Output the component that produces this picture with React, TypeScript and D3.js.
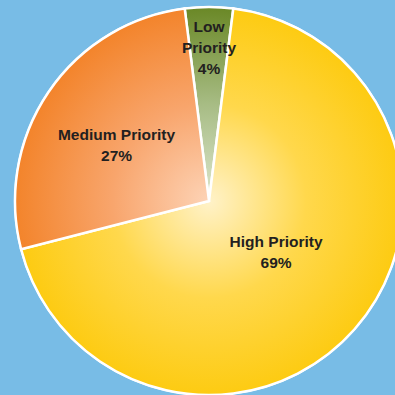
import React from "react";
import * as d3 from "d3";

const categories = ["Low Priority", "High Priority", "Medium Priority"];
const values = [4, 69, 27];
const labelLines = [["Low", "Priority", "4%"], ["High Priority", "69%"], ["Medium Priority", "27%"]];

const W = 395, H = 395;
const cx = 209, cy = 201, R = 194;
const gradients = [
  ["#DDE6CE", "#A7BC84", "#6A8826"],
  ["#FFF2C9", "#FFD84C", "#FDCB12"],
  ["#FDD3B6", "#F8A56C", "#F3842B"],
];
const labelRadius = [154, 84, 108];
const labelAngleShift = [0, -4.4, -3.1];

export default function App() {
  const offset = (values[0] / d3.sum(values)) * Math.PI;
  const pie = d3.pie<number>().sort(null).value((d) => d)
    .startAngle(-offset).endAngle(2 * Math.PI - offset);
  const arcs = pie(values);
  const arc = d3.arc<d3.PieArcDatum<number>>().innerRadius(0).outerRadius(R);
  const lh = 21;
  return (
    <svg width={W} height={H} style={{ position: "absolute", left: 0, top: 0, background: "#78BCE6" }}>
      <defs>
        {gradients.map((g, i) => (
          <radialGradient key={i} id={`g${i}`} gradientUnits="userSpaceOnUse" cx={0} cy={0} r={R}>
            <stop offset="0" stopColor={g[0]} />
            <stop offset="0.5" stopColor={g[1]} />
            <stop offset="1" stopColor={g[2]} />
          </radialGradient>
        ))}
      </defs>
      <g transform={`translate(${cx},${cy})`}>
        <circle r={R + 1} fill="#fff" />
        {arcs.map((a, i) => (
          <path key={categories[i]} d={arc(a) || ""} fill={`url(#g${i})`} stroke="#fff" strokeWidth={2.5} strokeLinejoin="miter" />
        ))}
        {arcs.map((a, i) => {
          const mid = (a.startAngle + a.endAngle) / 2 + (labelAngleShift[i] * Math.PI) / 180;
          const r = labelRadius[i];
          const x = r * Math.sin(mid);
          const y = -r * Math.cos(mid);
          const lines = labelLines[i];
          return (
            <text key={"t" + i} x={x} textAnchor="middle" fontFamily="'Liberation Sans', Arial, sans-serif" fontWeight="bold" fontSize={15.5} fill="#231F20">
              {lines.map((l, j) => (
                <tspan key={j} x={x} y={y + (j - (lines.length - 1) / 2) * lh + 5.5}>{l}</tspan>
              ))}
            </text>
          );
        })}
      </g>
    </svg>
  );
}
